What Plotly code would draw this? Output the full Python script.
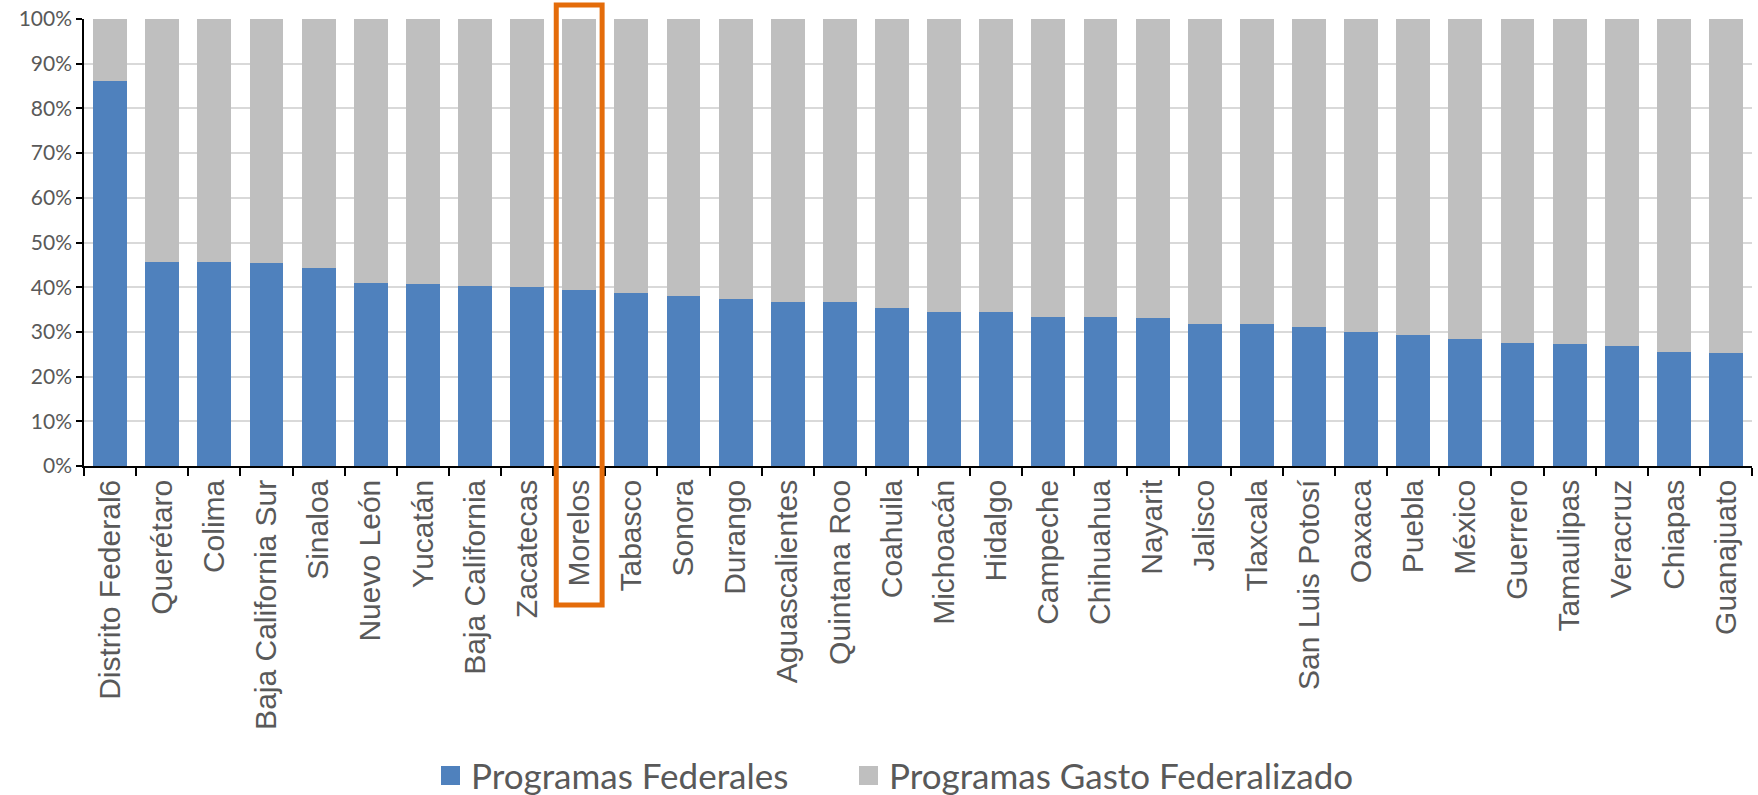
import plotly.graph_objects as go

estados = ["Distrito Federal6", "Querétaro", "Colima", "Baja California Sur", "Sinaloa",
           "Nuevo León", "Yucatán", "Baja California", "Zacatecas", "Morelos",
           "Tabasco", "Sonora", "Durango", "Aguascalientes", "Quintana Roo",
           "Coahuila", "Michoacán", "Hidalgo", "Campeche", "Chihuahua",
           "Nayarit", "Jalisco", "Tlaxcala", "San Luis Potosí", "Oaxaca",
           "Puebla", "México", "Guerrero", "Tamaulipas", "Veracruz",
           "Chiapas", "Guanajuato"]

programas_federales = [86.2, 45.7, 45.7, 45.4, 44.3, 41.0, 40.7, 40.3, 40.0, 39.3,
                       38.7, 38.1, 37.4, 36.7, 36.7, 35.4, 34.5, 34.5, 33.3, 33.3,
                       33.1, 31.8, 31.8, 31.2, 30.0, 29.4, 28.4, 27.5, 27.4, 26.9,
                       25.6, 25.3]
gasto_federalizado = [round(100 - v, 1) for v in programas_federales]

series_names = ["Programas Federales", "Programas Gasto Federalizado"]
series_colors = ["#4F81BD", "#BFBFBF"]

resaltado = "Morelos"

W, H = 1758, 795
L, R, T, B = 84, 6, 19, 329
PW, PH = W - L - R, H - T - B


def px2paper_x(px):
    return (px - L) / PW


def px2paper_y(py):
    return (H - B - py) / PH


fig = go.Figure()
for name, vals, col in zip(series_names, [programas_federales, gasto_federalizado], series_colors):
    fig.add_trace(go.Bar(x=estados, y=vals, name=name, showlegend=False,
                         marker=dict(color=col, line=dict(width=0))))

idx = estados.index(resaltado)
fig.add_shape(type="rect", xref="x", yref="paper",
              x0=idx - 0.44, x1=idx + 0.44, y0=px2paper_y(605), y1=px2paper_y(5),
              line=dict(color="#E46C0A", width=5), fillcolor="rgba(0,0,0,0)",
              layer="above")

# manual legend
legend_x = [441, 859]
for name, col, lx in zip(series_names, series_colors, legend_x):
    fig.add_shape(type="rect", xref="paper", yref="paper",
                  x0=px2paper_x(lx), x1=px2paper_x(lx + 19),
                  y0=px2paper_y(785), y1=px2paper_y(766),
                  line=dict(width=0), fillcolor=col)
    fig.add_annotation(xref="paper", yref="paper", x=px2paper_x(lx + 28), y=px2paper_y(775),
                       xanchor="left", yanchor="middle", showarrow=False, text=name,
                       font=dict(family="Lato", size=35, color="#595959"))

fig.update_layout(
    barmode="stack",
    bargap=0.35,
    width=W, height=H,
    margin=dict(l=L, r=R, t=T, b=B, autoexpand=False),
    plot_bgcolor="white", paper_bgcolor="white",
    showlegend=False,
    xaxis=dict(type="category", tickangle=-90, automargin=False,
               tickfont=dict(family="Liberation Sans, Arial", size=30, color="#595959"),
               showline=True, linecolor="black", linewidth=1.5,
               ticks="outside", tickson="boundaries", ticklen=8, tickcolor="black",
               tickwidth=1.5, showgrid=False),
    yaxis=dict(range=[0, 100], dtick=10, ticksuffix="%", automargin=False,
               tickfont=dict(family="Lato", size=21, color="#595959"),
               showline=True, linecolor="black", linewidth=1.5,
               ticks="outside", ticklen=6, tickcolor="black", tickwidth=1.5,
               showgrid=True, gridcolor="#D9D9D9", gridwidth=1.5, zeroline=False),
)

fig.write_html("out.html",
               config={"displayModeBar": False},
               post_script="document.body.style.margin='0';document.body.style.overflow='hidden';")
